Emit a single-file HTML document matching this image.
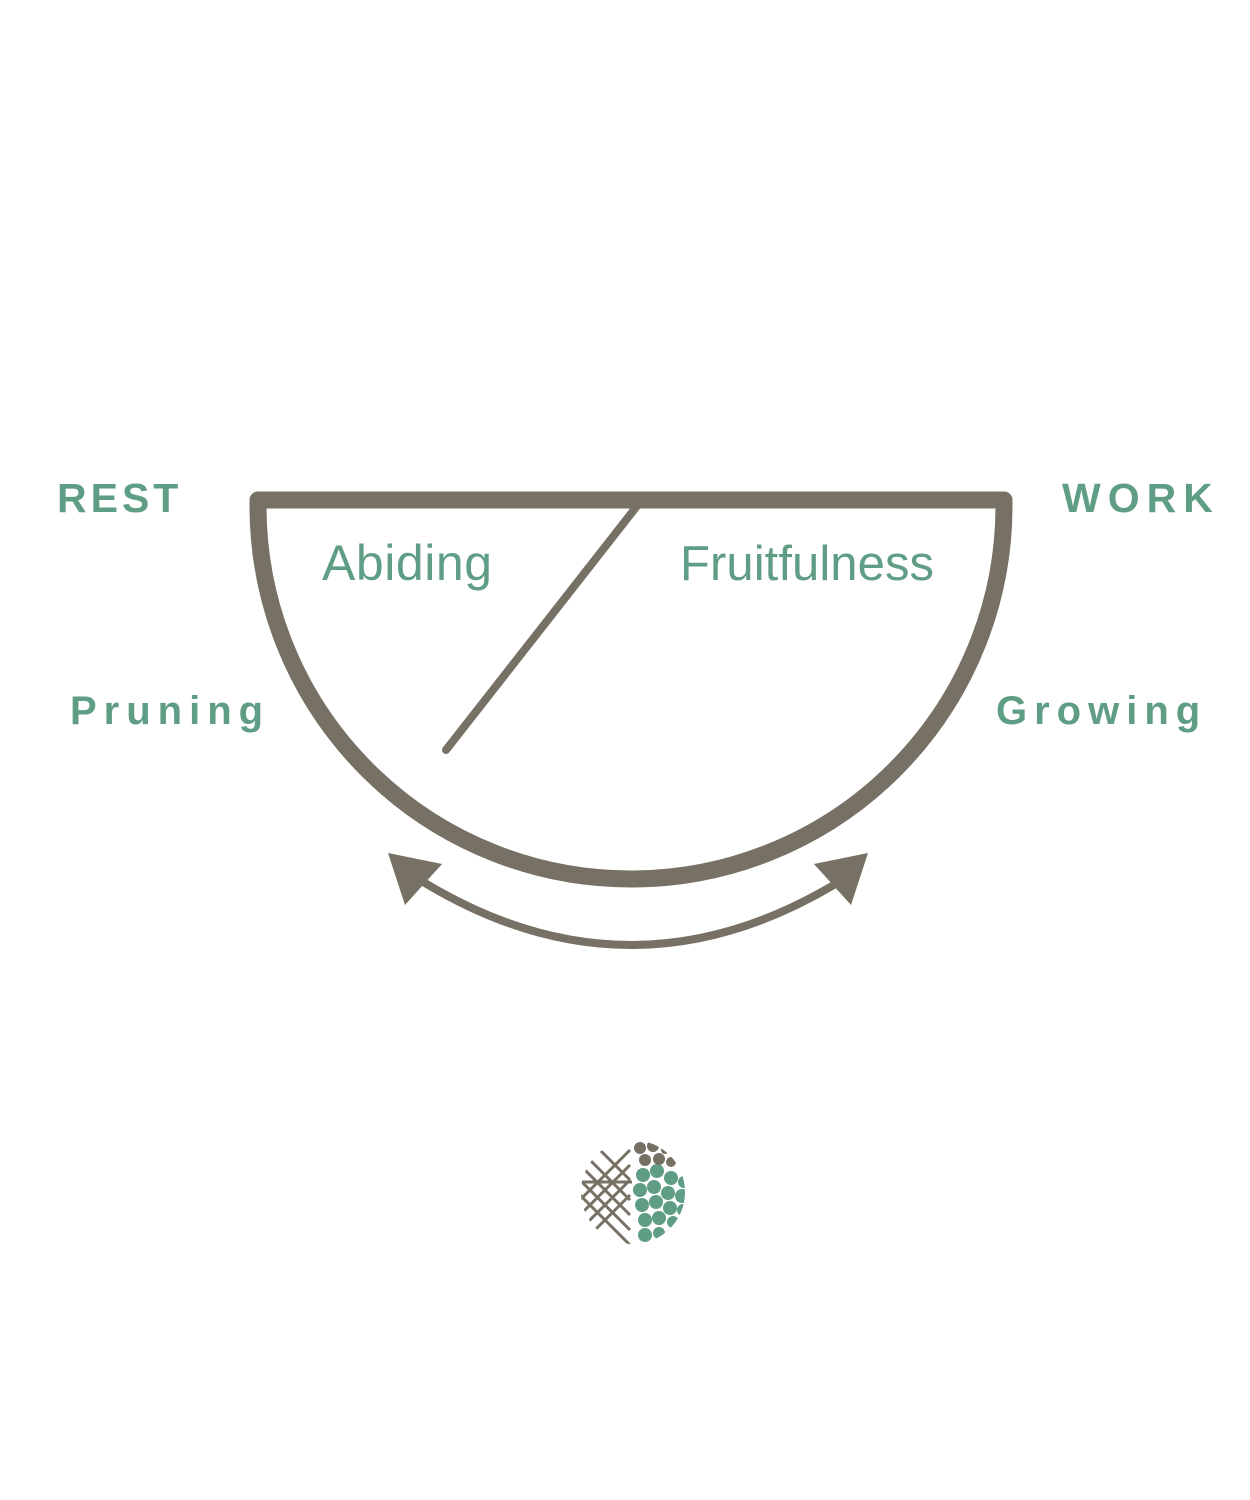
<!DOCTYPE html>
<html><head><meta charset="utf-8"><style>
html,body{margin:0;padding:0;background:#fff;}
svg{display:block;}
</style></head><body>
<svg width="1250" height="1500" viewBox="0 0 1250 1500" xmlns="http://www.w3.org/2000/svg">
<g fill="none" stroke="#777064" stroke-linecap="round" stroke-linejoin="round">
  <path d="M258 500 L1004 500 L1004 506 A373 373 0 0 1 258 506 Z" stroke-width="17"/>
  <line x1="637" y1="506" x2="446" y2="750" stroke-width="8"/>
  <path d="M420 880 Q631 1010 842 880" stroke-width="8"/>
</g>
<g fill="#777064">
  <polygon points="388,853 442,864 405,905"/>
  <polygon points="868,853 814,864 851,905"/>
</g>
<g font-family="Liberation Sans, sans-serif" fill="#5f9e84">
  <text x="57" y="512" font-size="41" font-weight="bold" letter-spacing="4">REST</text>
  <text x="1062" y="512" font-size="41" font-weight="bold" letter-spacing="7">WORK</text>
  <text x="70" y="724" font-size="40" font-weight="bold" letter-spacing="7">Pruning</text>
  <text x="996" y="724" font-size="40" font-weight="bold" letter-spacing="7">Growing</text>
  <text x="322" y="580" font-size="50" textLength="170">Abiding</text>
  <text x="680" y="580" font-size="49" textLength="254">Fruitfulness</text>
</g>
<g>
  <clipPath id="c"><circle cx="633" cy="1192" r="52"/></clipPath>
  <g clip-path="url(#c)">
    <g stroke="#777064" stroke-width="3">
      <line x1="580" y1="1150" x2="630" y2="1200"/>
      <line x1="580" y1="1165" x2="630" y2="1215"/>
      <line x1="580" y1="1180" x2="630" y2="1230"/>
      <line x1="580" y1="1195" x2="630" y2="1245"/>
      <line x1="590" y1="1140" x2="630" y2="1180"/>
      <line x1="630" y1="1150" x2="580" y2="1200"/>
      <line x1="630" y1="1165" x2="580" y2="1215"/>
      <line x1="630" y1="1180" x2="580" y2="1230"/>
      <line x1="630" y1="1195" x2="585" y2="1240"/>
      <line x1="580" y1="1182" x2="632" y2="1182"/>
    </g>
    <g fill="#5f9e84">
      <circle cx="643" cy="1175" r="7"/><circle cx="657" cy="1171" r="7"/><circle cx="671" cy="1178" r="7"/><circle cx="684" cy="1182" r="6"/>
      <circle cx="640" cy="1190" r="7"/><circle cx="654" cy="1187" r="7"/><circle cx="668" cy="1193" r="7"/><circle cx="682" cy="1196" r="7"/>
      <circle cx="642" cy="1205" r="7"/><circle cx="656" cy="1202" r="7"/><circle cx="670" cy="1208" r="7"/><circle cx="683" cy="1210" r="6"/>
      <circle cx="645" cy="1220" r="7"/><circle cx="659" cy="1218" r="7"/><circle cx="673" cy="1222" r="6"/>
      <circle cx="645" cy="1235" r="7"/><circle cx="659" cy="1233" r="6"/><circle cx="671" cy="1234" r="5"/>
    </g>
    <g fill="#777064">
      <circle cx="640" cy="1148" r="6"/><circle cx="653" cy="1146" r="6"/><circle cx="645" cy="1160" r="6"/><circle cx="659" cy="1159" r="6"/><circle cx="671" cy="1162" r="5"/><circle cx="665" cy="1150" r="4"/>
    </g>
  </g>
</g>
</svg>
</body></html>
